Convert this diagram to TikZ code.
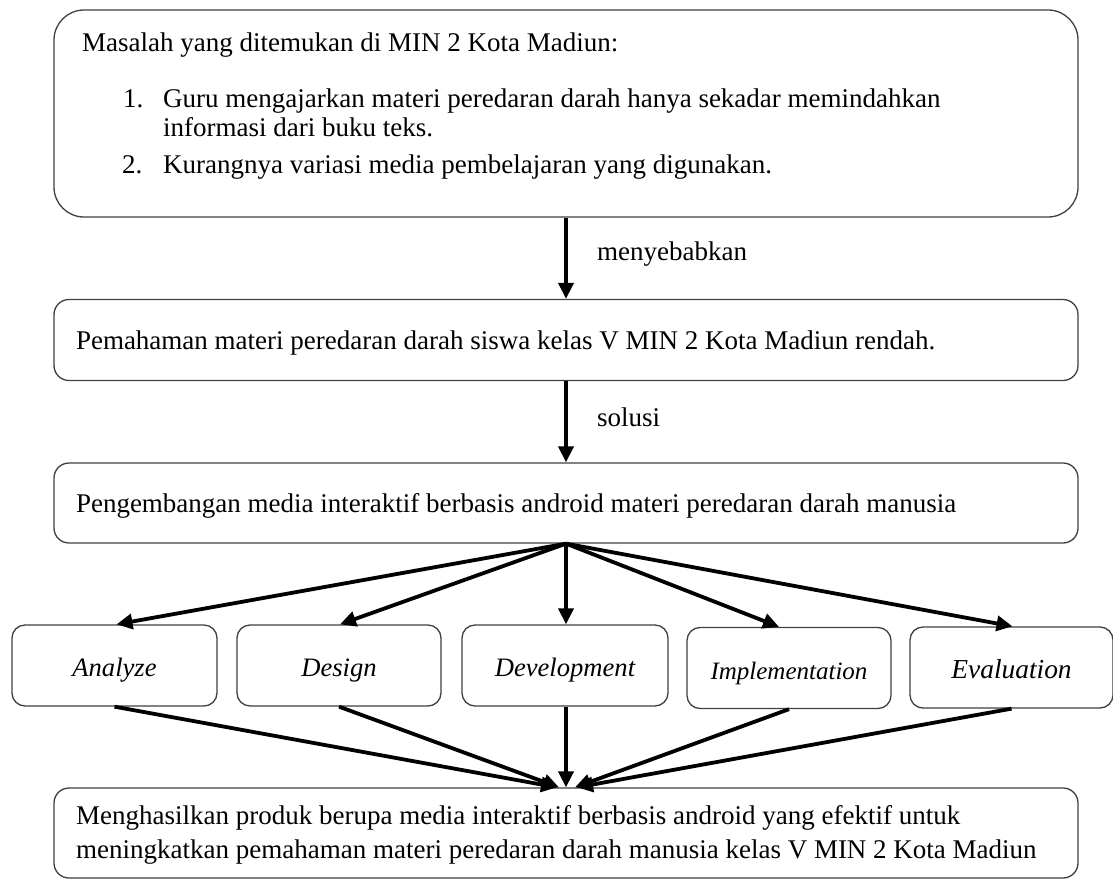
\documentclass[tikz,border=0pt]{standalone}
\usepackage{fontspec}
\setmainfont{Liberation Serif}
\usetikzlibrary{arrows.meta}
\begin{document}
\begin{tikzpicture}[x=1pt,y=-1pt,
  boxbase/.style={draw=black!75, line width=1.3pt, inner sep=0pt, fill=white},
  bigbox/.style={boxbase, rounded corners=30pt},
  widebox/.style={boxbase, rounded corners=15pt, minimum width=1024pt, text width=980pt, inner xsep=22pt, align=flush left, font=\fontsize{27}{34}\selectfont},
  stagebox/.style={boxbase, rounded corners=13pt, minimum height=81pt, text height=26pt, text depth=4pt, font=\fontsize{26.6}{30}\selectfont\itshape},
  txt/.style={inner sep=0pt, font=\fontsize{27}{30}\selectfont},
  arr/.style={line width=3.8pt, -{Triangle[length=16pt,width=15pt]}}
]
\useasboundingbox (0,0) rectangle (1113,880);

% top box
\node[bigbox, minimum width=1024pt, minimum height=207pt] (masalah) at (566,113.5) {};
\node[txt, anchor=base west] (t0) at (82,52) {Masalah yang ditemukan di MIN 2 Kota Madiun:};
\node[txt, anchor=base west] (n1) at (123,108) {1.};
\node[txt, anchor=base west] (t1) at (163,108) {Guru mengajarkan materi peredaran darah hanya sekadar memindahkan};
\node[txt, anchor=base west] (t1b) at (163,136) {informasi dari buku teks.};
\node[txt, anchor=base west] (n2) at (122,173) {2.};
\node[txt, anchor=base west] (t2) at (163,173) {Kurangnya variasi media pembelajaran yang digunakan.};

% middle boxes
\node[widebox, minimum height=81pt, text height=26pt, text depth=8pt] (paham) at (566,340) {Pemahaman materi peredaran darah siswa kelas V MIN 2 Kota Madiun rendah.};
\node[widebox, minimum height=80pt, text height=26pt, text depth=8pt] (kembang) at (566,503) {Pengembangan media interaktif berbasis android materi peredaran darah manusia};

% stage boxes
\node[stagebox, minimum width=205pt] (analyze) at (114.5,665.5) {Analyze};
\node[stagebox, minimum width=204pt] (design) at (339,665.5) {Design};
\node[stagebox, minimum width=206pt] (devel) at (565,665.5) {Development};
\node[stagebox, minimum width=204pt, font=\fontsize{25}{30}\selectfont\itshape] (impl) at (789,668) {Implementation};
\node[stagebox, minimum width=203pt, font=\fontsize{27.4}{30}\selectfont\itshape] (eval) at (1011.5,667.5) {Evaluation};

% bottom box
\node[boxbase, rounded corners=15pt, minimum width=1024pt, minimum height=90pt] (hasil) at (566,833) {};
\node[txt, anchor=base west] (h1) at (76,824) {Menghasilkan produk berupa media interaktif berbasis android yang efektif untuk};
\node[txt, anchor=base west] (h2) at (76,858) {meningkatkan pemahaman materi peredaran darah manusia kelas V MIN 2 Kota Madiun};

% connectors
\draw[arr] (masalah.south) -- (paham.north);
\node[txt, anchor=base west] (lab1) at (597,260) {menyebabkan};
\draw[arr] (paham.south) -- (kembang.north);
\node[txt, anchor=base west] (lab2) at (597,426) {solusi};

\draw[arr] (kembang.south) -- ([xshift=2pt]analyze.north);
\draw[arr] (kembang.south) -- ([xshift=1pt]design.north);
\draw[arr] (kembang.south) -- (kembang.south |- devel.north);
\draw[arr] (kembang.south) -- ([xshift=-10pt]impl.north);
\draw[arr] (kembang.south) -- ([xshift=1pt]eval.north);

\draw[arr] (analyze.south) -- ([xshift=-9pt]hasil.north);
\draw[arr] (design.south) -- ([xshift=-7pt]hasil.north);
\draw[arr] (devel.south -| hasil.north) -- (hasil.north);
\draw[arr] (impl.south) -- ([xshift=9pt]hasil.north);
\draw[arr] (eval.south) -- ([xshift=11pt]hasil.north);
\end{tikzpicture}
\end{document}
